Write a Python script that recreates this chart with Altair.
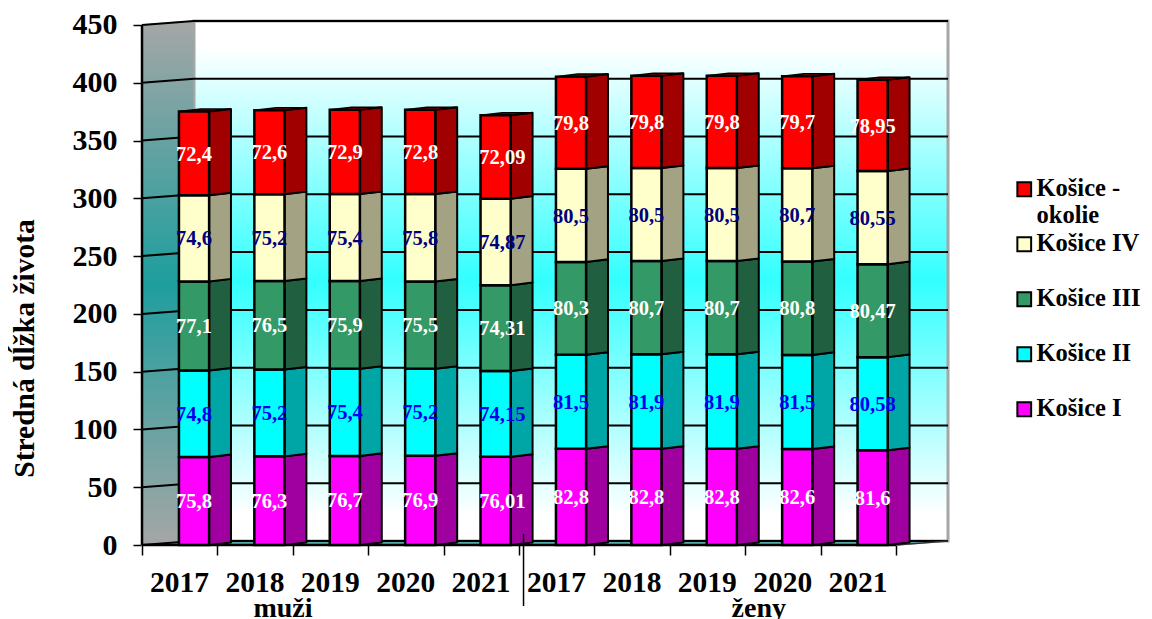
import altair as alt
import pandas as pd

years = ["2017", "2018", "2019", "2020", "2021"] * 2
groups = ["muži"] * 5 + ["ženy"] * 5
series = ["Košice I", "Košice II", "Košice III", "Košice IV", "Košice - okolie"]
s1 = [75.8, 76.3, 76.7, 76.9, 76.01, 82.8, 82.8, 82.8, 82.6, 81.6]
s2 = [74.8, 75.2, 75.4, 75.2, 74.15, 81.5, 81.9, 81.9, 81.5, 80.58]
s3 = [77.1, 76.5, 75.9, 75.5, 74.31, 80.3, 80.7, 80.7, 80.8, 80.47]
s4 = [74.6, 75.2, 75.4, 75.8, 74.87, 80.5, 80.5, 80.5, 80.7, 80.55]
s5 = [72.4, 72.6, 72.9, 72.8, 72.09, 79.8, 79.8, 79.8, 79.7, 78.95]
values = [s1, s2, s3, s4, s5]
front_col = ["#FF00FF", "#00FFFF", "#339966", "#FFFFCC", "#FF0000"]
side_col = ["#A000A0", "#00A5A5", "#206040", "#A3A383", "#A00000"]
label_col = ["white", "#0000EE", "white", "#000080", "white"]
y_ticks = list(range(0, 451, 50))

FONT = "Liberation Serif"
W, H = 806, 524
SLOT = 75.4
XMAX = W / SLOT
WALL_DY = 3.46
WALL_DX = 52 / SLOT
YMAX = 450 + WALL_DY
BAR_L, BAR_W, SIDE_W, RISE = 0.49, 0.40, 0.29, 2.2

front, side, top, labels = [], [], [], []
for i in range(10):
    cum = 0
    for k, name in enumerate(series):
        v = values[k][i]
        a, b = cum + 0.4, cum + 0.4 + v
        cum = cum + v
        xl, xr, xe = i + BAR_L, i + BAR_L + BAR_W, i + BAR_L + BAR_W + SIDE_W
        front.append(dict(x=xl, x2=xr, y=a if k else 0, y2=b, series=name))
        sid = f"{i}-{k}"
        side += [
            dict(id=sid, x=xr, y=a if k else 0, y2=b, f=side_col[k]),
            dict(id=sid, x=xe, y=(a if k else 0) + RISE, y2=b + RISE, f=side_col[k]),
        ]
        nudge = 0.09 if (i == 4) else 0.0
        labels.append(dict(x=xl + BAR_W / 2 + nudge, y=(a + b) / 2 - 1,
                           t=str(v).replace(".", ","), c=label_col[k]))
    xs = i + BAR_L
    t = cum + 0.4
    top += [
        dict(id=i, x=xs, y=t, y2=t),
        dict(id=i, x=xs + SIDE_W, y=t, y2=t + RISE),
        dict(id=i, x=xs + BAR_W, y=t, y2=t + RISE),
        dict(id=i, x=xs + BAR_W + SIDE_W, y=t + RISE, y2=t + RISE),
    ]

grid = []
for v in y_ticks:
    grid += [dict(v=v, x=0, y=v), dict(v=v, x=WALL_DX, y=v + WALL_DY), dict(v=v, x=XMAX, y=v + WALL_DY)]

X = alt.X("x:Q", scale=alt.Scale(domain=[0, XMAX], nice=False, zero=False), axis=alt.Axis(
    values=list(range(11)), domain=False, grid=False, title=None, tickSize=10, tickColor="black", tickWidth=1.5,
    labelExpr="[" + ",".join(f"'{y}'" for y in years) + ",''][datum.value]",
    labelFont=FONT, labelFontWeight="bold", labelFontSize=29.5, labelColor="black", labelOffset=37,
    labelPadding=13, labelAngle=0, labelOverlap=False, labelFlush=False))
Y = alt.Y("y:Q", stack=None, scale=alt.Scale(domain=[0, YMAX], nice=False, zero=False), axis=alt.Axis(
    values=y_ticks, domain=False, grid=False, tickSize=9, tickColor="black", tickWidth=1.5,
    labelFont=FONT, labelFontWeight="bold", labelFontSize=30, labelColor="black", labelPadding=16,
    title="Stredná dĺžka života", titleFont=FONT, titleFontWeight="bold", titleFontSize=29.5, titleColor="black",
    titleX=-103, titleY=327, titleAngle=-90, titleAlign="center"))


def grad(stops):
    return alt.Gradient(gradient="linear", x1=0, x2=0, y1=0, y2=1,
                        stops=[alt.GradientStop(offset=o, color=c) for o, c in stops])


back = alt.Chart(pd.DataFrame([dict(x=WALL_DX, x2=XMAX, y=WALL_DY, y2=YMAX)])).mark_rect(
    fill=grad([(0, "#FFFFFF"), (0.05, "#FFFFFF"), (0.5, "#33FFFF"), (0.95, "#FFFFFF"), (1, "#FFFFFF")]),
    stroke="#A6A6A6", strokeWidth=3
).encode(x=X, x2="x2:Q", y=Y, y2="y2:Q")

left = alt.Chart(pd.DataFrame([
    dict(x=0, y=0, y2=450), dict(x=WALL_DX, y=WALL_DY, y2=YMAX)
])).mark_area(
    fill=grad([(0, "#A6A6A6"), (0.5, "#1E9E9E"), (1, "#A6A6A6")]), stroke="#A6A6A6", strokeWidth=1.5
).encode(x=X, y=Y, y2="y2:Q")

floor = alt.Chart(pd.DataFrame([
    dict(x=0, y=0, y2=0), dict(x=WALL_DX, y=0, y2=WALL_DY), dict(x=10, y=0, y2=WALL_DY), dict(x=XMAX, y=WALL_DY, y2=WALL_DY)
])).mark_area(fill="#55AAAA", stroke="#A6A6A6", strokeWidth=1.5).encode(x=X, y=Y, y2="y2:Q")

grid_l = alt.Chart(pd.DataFrame(grid)).mark_line(color="black", strokeWidth=2).encode(x=X, y=Y, detail="v:N")

axis_l = alt.Chart(pd.DataFrame([dict(x=0, y=0), dict(x=0, y=450)])).mark_line(color="black", strokeWidth=2.5).encode(x=X, y=Y)
base_l = alt.Chart(pd.DataFrame([dict(x=0, y=0), dict(x=10, y=0)])).mark_line(color="black", strokeWidth=2.5).encode(x=X, y=Y)
floor_edge = alt.Chart(pd.DataFrame([dict(x=10, y=0), dict(x=XMAX, y=WALL_DY)])).mark_line(color="#333333", strokeWidth=1.5).encode(x=X, y=Y)

sides = alt.Chart(pd.DataFrame(side)).mark_area(stroke="black", strokeWidth=2, strokeJoin="round").encode(
    x=X, y=Y, y2="y2:Q", detail="id:N", fill=alt.Fill("f:N", scale=None))
tops = alt.Chart(pd.DataFrame(top)).mark_area(stroke="black", strokeWidth=1.5, fill="#A00000").encode(
    x=X, y=Y, y2="y2:Q", detail="id:N")
fronts = alt.Chart(pd.DataFrame(front)).mark_rect(stroke="black", strokeWidth=2.5).encode(
    x=X, x2="x2:Q", y=Y, y2="y2:Q",
    color=alt.Color("series:N", scale=alt.Scale(domain=series, range=front_col), legend=alt.Legend(
        values=series[::-1], title=None, orient="none", legendX=870, legendY=156, symbolType="square",
        symbolSize=190, symbolStrokeColor="black", symbolStrokeWidth=2, symbolOpacity=1,
        labelFont=FONT, labelFontWeight="bold", labelFontSize=24.5, labelColor="black", labelLimit=200,
        labelOffset=0, gridAlign="all", rowPadding=3,
        labelExpr="datum.label == 'Košice - okolie' ? ['Košice -', 'okolie'] : datum.label")))
texts = alt.Chart(pd.DataFrame(labels)).mark_text(
    font=FONT, fontWeight="bold", fontSize=20.5, baseline="middle", align="center"
).encode(x=X, y=Y, text="t:N", fill=alt.Fill("c:N", scale=None))

divider = alt.Chart(pd.DataFrame([dict(x=5.06)])).mark_rule(color="black", strokeWidth=1.5).encode(
    x=X, y=alt.value(513), y2=alt.value(585))
gr_df = pd.DataFrame([dict(x=1.87, t=groups[0]), dict(x=8.18, t=groups[5])])
group_t = alt.Chart(gr_df).mark_text(
    font=FONT, fontWeight="bold", fontSize=28, color="black", align="center", baseline="alphabetic"
).encode(x=X, y=alt.value(596), text="t:N")

chart = alt.layer(back, left, floor, grid_l, axis_l, base_l, floor_edge, sides, tops, fronts, texts, divider, group_t).properties(
    width=W, height=H,
    autosize=alt.AutoSizeParams(type="none"),
    padding={"left": 134, "top": 13, "right": 194, "bottom": 74},
    background="white",
).configure_view(stroke=None)

chart.save("out.html", embed_options={"renderer": "svg", "actions": False})
